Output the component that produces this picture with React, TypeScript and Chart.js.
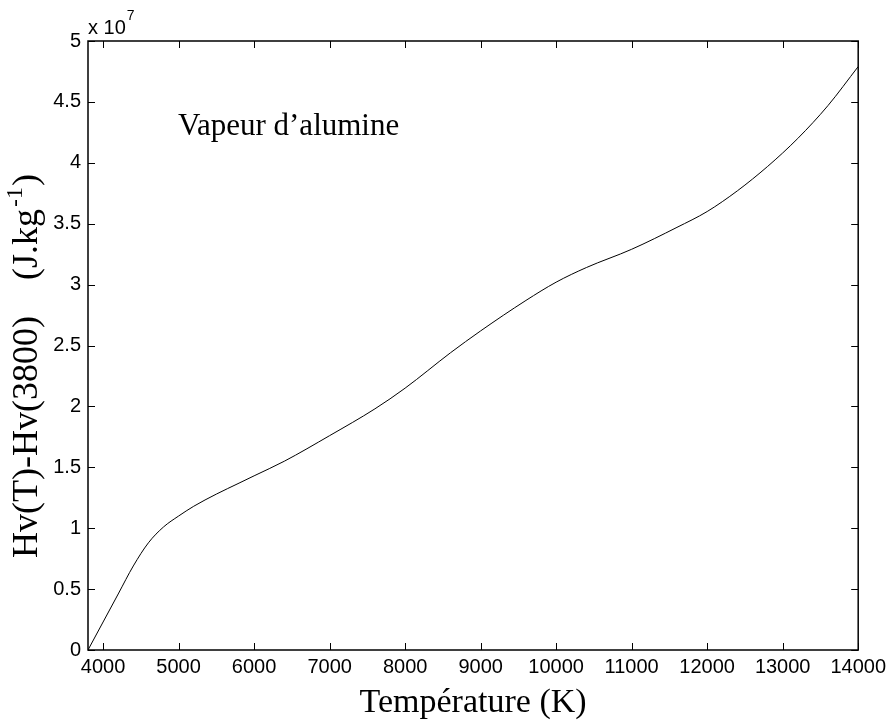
import React, { useEffect, useRef } from "react";
import { Chart, registerables } from "chart.js";

Chart.register(...registerables);

// Temperature (K)
const temperatures = [
  3800, 4000, 4200, 4400, 4600, 4800, 5000, 5200, 5500, 5800, 6000, 6400,
  7000, 7600, 8000, 8600, 9000, 9600, 10000, 10400, 11000, 11600, 12000,
  12400, 12800, 13200, 13600, 14000,
];
// Hv(T)-Hv(3800) in units of 10^7 J/kg
const enthalpy = [
  0, 0.23, 0.46, 0.69, 0.88, 1.01, 1.1, 1.18, 1.28, 1.37, 1.43, 1.55,
  1.76, 1.98, 2.15, 2.44, 2.62, 2.87, 3.02, 3.14, 3.29, 3.47, 3.6,
  3.77, 3.97, 4.2, 4.47, 4.79,
];
const xTicks = [4000, 5000, 6000, 7000, 8000, 9000, 10000, 11000, 12000, 13000, 14000];
const yTicks = [0, 0.5, 1, 1.5, 2, 2.5, 3, 3.5, 4, 4.5, 5];

const xTitle = "Température (K)";
const yTitleMain = "Hv(T)-Hv(3800)";
const yTitleUnit = "(J.kg";
const yTitleSup = "-1";
const yTitleEnd = ")";
const annotation = "Vapeur d\u2019alumine";

const SANS = "'Liberation Sans', Arial, Helvetica, sans-serif";
const SERIF = "'Liberation Serif', 'Times New Roman', serif";

const decorPlugin = {
  id: "decor",
  afterDraw(chart: any) {
    const { ctx, chartArea } = chart;
    const { left, right, top, bottom } = chartArea;
    const xs = chart.scales.x;
    const ys = chart.scales.y;
    ctx.save();
    ctx.strokeStyle = "#000";
    ctx.lineWidth = 1.5;
    ctx.strokeRect(left, top, right - left, bottom - top);
    const tl = 7;
    ctx.beginPath();
    xTicks.forEach((v) => {
      const px = Math.round(xs.getPixelForValue(v)) + 0.5;
      ctx.moveTo(px, bottom);
      ctx.lineTo(px, bottom - tl);
      ctx.moveTo(px, top);
      ctx.lineTo(px, top + tl);
    });
    yTicks.forEach((v) => {
      const py = Math.round(ys.getPixelForValue(v)) + 0.5;
      ctx.moveTo(left, py);
      ctx.lineTo(left + tl, py);
      ctx.moveTo(right, py);
      ctx.lineTo(right - tl, py);
    });
    ctx.lineWidth = 1;
    ctx.stroke();

    ctx.fillStyle = "#000";
    // exponent label
    ctx.font = `20px ${SANS}`;
    ctx.textAlign = "left";
    ctx.textBaseline = "alphabetic";
    ctx.fillText("x 10", left, top - 7);
    const w = ctx.measureText("x 10").width;
    ctx.font = `14px ${SANS}`;
    ctx.fillText("7", left + w + 1, top - 21);

    // annotation
    ctx.font = `31px ${SERIF}`;
    ctx.fillText(annotation, 178, 135);

    // x title
    ctx.font = `34px ${SERIF}`;
    ctx.textAlign = "center";
    ctx.fillText(xTitle, (left + right) / 2, 712);

    // y title (rotated, reading bottom to top, starting at y = 558)
    ctx.save();
    ctx.translate(37, 558);
    ctx.rotate(-Math.PI / 2);
    ctx.textAlign = "left";
    let x0 = 0;
    ctx.font = `36px ${SERIF}`;
    ctx.fillText(yTitleMain, x0, 0);
    x0 += ctx.measureText(yTitleMain).width + 36;
    ctx.fillText(yTitleUnit, x0, 0);
    x0 += ctx.measureText(yTitleUnit).width + 2;
    ctx.font = `24px ${SERIF}`;
    ctx.fillText(yTitleSup, x0, -15);
    x0 += ctx.measureText(yTitleSup).width + 1;
    ctx.font = `36px ${SERIF}`;
    ctx.fillText(yTitleEnd, x0, 0);
    ctx.restore();

    ctx.restore();
  },
};

export default function App() {
  const ref = useRef<HTMLCanvasElement | null>(null);
  useEffect(() => {
    if (!ref.current) return;
    const chart = new Chart(ref.current, {
      type: "line",
      data: {
        datasets: [
          {
            data: temperatures.map((t, i) => ({ x: t, y: enthalpy[i] })),
            borderColor: "#000",
            borderWidth: 1,
            pointRadius: 0,
            fill: false,
            cubicInterpolationMode: "monotone",
          },
        ],
      },
      options: {
        animation: false,
        responsive: false,
        maintainAspectRatio: false,
        layout: { padding: { top: 41, right: 31, left: 0, bottom: 0 } },
        plugins: { legend: { display: false }, tooltip: { enabled: false } },
        scales: {
          x: {
            type: "linear",
            min: 3800,
            max: 14000,
            afterBuildTicks: (s: any) => {
              s.ticks = xTicks.map((v) => ({ value: v }));
            },
            afterFit: (s: any) => {
              s.height = 72;
            },
            grid: { display: false, drawTicks: false },
            border: { display: false },
            ticks: {
              color: "#000",
              font: { family: SANS, size: 20 },
              padding: 5,
              maxRotation: 0,
              autoSkip: false,
              callback: (v: any) => String(v),
            },
          },
          y: {
            type: "linear",
            min: 0,
            max: 5,
            afterBuildTicks: (s: any) => {
              s.ticks = yTicks.map((v) => ({ value: v }));
            },
            afterFit: (s: any) => {
              s.width = 88;
            },
            grid: { display: false, drawTicks: false },
            border: { display: false },
            ticks: {
              color: "#000",
              font: { family: SANS, size: 20 },
              padding: 7,
              autoSkip: false,
              callback: (v: any) => String(v),
            },
          },
        },
      },
      plugins: [decorPlugin],
    } as any);
    return () => chart.destroy();
  }, []);
  return (
    <div style={{ position: "fixed", left: 0, top: 0, width: 891, height: 722, background: "#fff" }}>
      <canvas ref={ref} width={891} height={722} style={{ display: "block", width: 891, height: 722 }} />
    </div>
  );
}
